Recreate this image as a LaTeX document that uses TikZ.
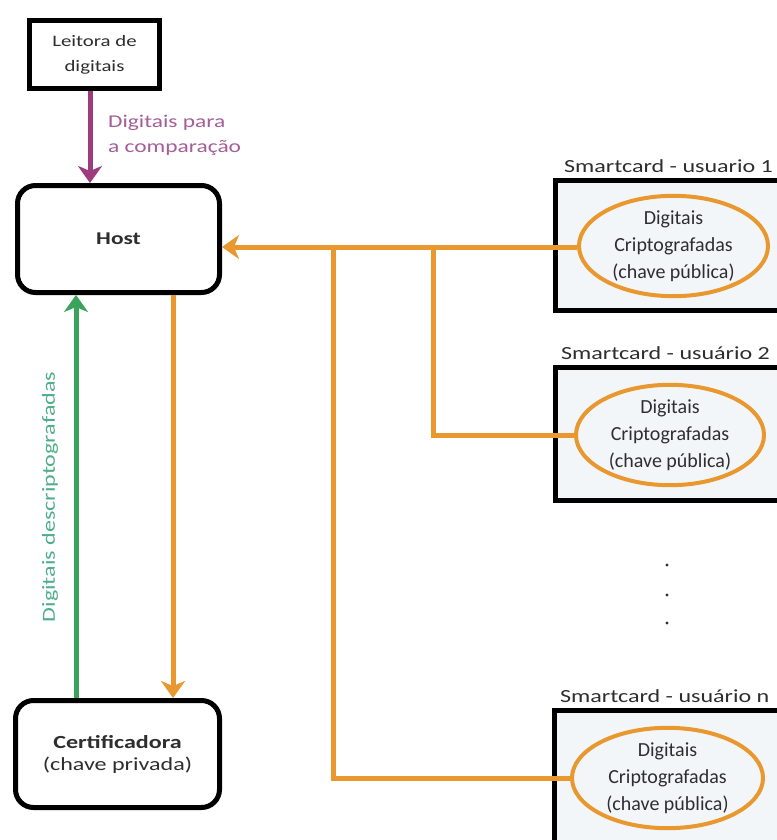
\documentclass[tikz,border=0pt]{standalone}
\usepackage{fontspec}
\setmainfont{Carlito}[FakeStretch=1.3]
\newfontfamily\plaincarlito{Carlito}
\usetikzlibrary{arrows.meta,shapes.geometric}
\definecolor{orangeline}{HTML}{E8982E}
\definecolor{purpleline}{HTML}{9C3C7E}
\definecolor{purpletext}{HTML}{A45E98}
\definecolor{greenline}{HTML}{3AA35C}
\definecolor{greentext}{HTML}{4FAE8A}
\definecolor{inktext}{HTML}{2E2E2E}
\definecolor{cardfill}{HTML}{F3F6F9}
\tikzset{
  blackbox/.style={draw=black, line width=5pt, fill=white, inner sep=0pt, text=inktext},
  roundbox/.style={blackbox, rounded corners=18pt},
  cardbox/.style={draw=black, line width=5pt, fill=cardfill},
  keyellipse/.style={ellipse, draw=orangeline, line width=4pt, fill=cardfill,
    inner sep=0pt, align=center,
    font=\plaincarlito\fontsize{20}{27}\selectfont, text=inktext},
  cardlabel/.style={anchor=base west, inner sep=0pt, font=\fontsize{18.5}{22}\selectfont, text=inktext},
  flow/.style={line width=5pt},
  tip/.style={-{Stealth[length=17pt,width=24pt,inset=5pt]}},
}
\begin{document}
\begin{tikzpicture}[x=1pt,y=-1pt]
\useasboundingbox (0,0) rectangle (776,840);
\fill[white] (0,0) rectangle (776,840);

% fingerprint reader, host and certifier
\node[blackbox, minimum width=130pt, minimum height=68pt, align=center,
  font=\fontsize{16}{25}\selectfont] (reader) at (94.5,54.5) {Leitora de\\digitais};
\node[roundbox, minimum width=202pt, minimum height=107pt,
  font=\bfseries\fontsize{18}{20}\selectfont] (host) at (118.5,239) {Host};
\node[roundbox, minimum width=204pt, minimum height=107pt, align=center,
  font=\fontsize{18.5}{22}\selectfont] (cert) at (117.5,754)
  {\textbf{Certificadora}\\(chave privada)};

% smartcards
\draw[cardbox] (555.5,180.5) rectangle (795,310.5);
\draw[cardbox] (555.5,367.5) rectangle (795,500.5);
\draw[cardbox] (554.5,710.5) rectangle (795,860);
\node[cardlabel] (lab1) at (564,172) {Smartcard - usuario 1};
\node[cardlabel] (lab2) at (561,359) {Smartcard - usuário 2};
\node[cardlabel] (labn) at (560,702) {Smartcard - usuário n};
\node[keyellipse, minimum width=189pt, minimum height=99pt] (key1) at (673.5,246)
  {Digitais\\Criptografadas\\(chave pública)};
\node[keyellipse, minimum width=188pt, minimum height=100pt] (key2) at (670,435)
  {Digitais\\Criptografadas\\(chave pública)};
\node[keyellipse, minimum width=191pt, minimum height=98pt] (keyn) at (667.5,778)
  {Digitais\\Criptografadas\\(chave pública)};

% vertical ellipsis between cards
\foreach \k/\y in {a/565, b/595, c/623}
  \fill[inktext] (667,\y) circle (1.7pt) coordinate (dot\k);

% reader -> host
\draw[flow, draw=purpleline, tip] (90,91) coordinate (rd) -- (host.north -| rd);
\node[anchor=north west, align=left, text=purpletext, inner sep=0pt,
  font=\fontsize{18}{25}\selectfont] (cmp) at (108,115) {Digitais para\\a comparação};

% host <-> certifier
\coordinate (hg) at (76,295);
\coordinate (ho) at (173,295);
\draw[flow, draw=greenline, tip] (cert.north -| hg) -- (hg);
\draw[flow, draw=orangeline, tip] (ho) -- (cert.north -| ho);
\node[rotate=90, text=greentext, font=\fontsize{18.5}{20}\selectfont] (dec) at (50,497)
  {Digitais descriptografadas};

% smartcards -> host
\coordinate (j2) at (433,247);
\coordinate (jn) at (333,247);
\draw[flow, draw=orangeline, tip] (key1.west |- j2) -- (host.east |- j2);
\draw[flow, draw=orangeline, line join=miter] (j2) |- (key2.west);
\draw[flow, draw=orangeline, line join=miter] (jn) |- (keyn.west);
\end{tikzpicture}
\end{document}
